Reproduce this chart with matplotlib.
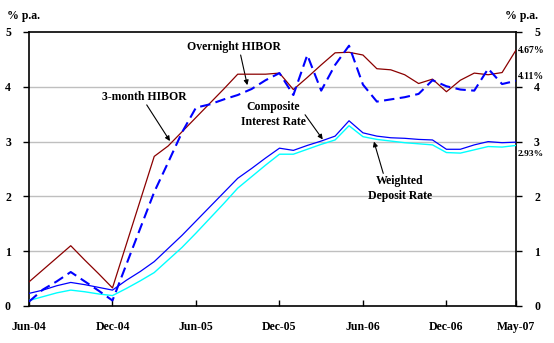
import matplotlib
matplotlib.use("Agg")
import matplotlib.pyplot as plt

# Monthly observations, Jun-04 .. May-07 (% p.a.)
months = ["Jun-04", "Jul-04", "Aug-04", "Sep-04", "Oct-04", "Nov-04", "Dec-04",
          "Jan-05", "Feb-05", "Mar-05", "Apr-05", "May-05", "Jun-05", "Jul-05",
          "Aug-05", "Sep-05", "Oct-05", "Nov-05", "Dec-05", "Jan-06", "Feb-06",
          "Mar-06", "Apr-06", "May-06", "Jun-06", "Jul-06", "Aug-06", "Sep-06",
          "Oct-06", "Nov-06", "Dec-06", "Jan-07", "Feb-07", "Mar-07", "Apr-07",
          "May-07"]

hibor_3m = [0.44, 0.66, 0.88, 1.10, 0.84, 0.59, 0.33, 1.13, 1.93, 2.73, 2.92, 3.18,
            3.44, 3.70, 3.96, 4.23, 4.23, 4.23, 4.25, 3.95, 4.17, 4.40, 4.62, 4.63,
            4.58, 4.33, 4.31, 4.22, 4.06, 4.14, 3.91, 4.12, 4.25, 4.22, 4.26, 4.67]

hibor_on = [0.08, 0.30, 0.45, 0.62, 0.45, 0.28, 0.10, 0.76, 1.42, 2.08, 2.62, 3.17,
            3.62, 3.68, 3.77, 3.85, 3.96, 4.12, 4.25, 3.85, 4.58, 3.93, 4.40, 4.75,
            4.04, 3.73, 3.77, 3.81, 3.87, 4.12, 4.01, 3.95, 3.93, 4.33, 4.05, 4.11]

composite = [0.23, 0.29, 0.37, 0.43, 0.39, 0.34, 0.29, 0.47, 0.63, 0.81, 1.05, 1.29,
             1.55, 1.81, 2.07, 2.33, 2.51, 2.70, 2.88, 2.84, 2.93, 3.01, 3.10, 3.38,
             3.16, 3.10, 3.07, 3.06, 3.04, 3.03, 2.86, 2.86, 2.94, 3.00, 2.98, 2.99]

deposit = [0.10, 0.17, 0.24, 0.29, 0.26, 0.22, 0.19, 0.32, 0.46, 0.61, 0.84, 1.07,
           1.33, 1.60, 1.87, 2.15, 2.36, 2.57, 2.77, 2.77, 2.86, 2.95, 3.03, 3.29,
           3.09, 3.04, 3.01, 2.98, 2.96, 2.94, 2.80, 2.79, 2.85, 2.91, 2.90, 2.93]

tick_labels = ["Jun-04", "Dec-04", "Jun-05", "Dec-05", "Jun-06", "Dec-06", "May-07"]
y_ticks = [0, 1, 2, 3, 4, 5]

FONT = "Liberation Serif"
plt.rcParams["font.family"] = [FONT, "DejaVu Serif"]
plt.rcParams["font.weight"] = "bold"

fig = plt.figure(figsize=(5.54, 3.43), dpi=100)
ax = fig.add_axes([29 / 554, 37 / 343, 487 / 554, 274 / 343])

x = list(range(len(months)))

ax.plot(x, deposit, color="#00FFFF", lw=1.0, zorder=3)
ax.plot(x, composite, color="#0000FF", lw=0.9, zorder=4)
ax.plot(x, hibor_3m, color="#8B0000", lw=0.9, zorder=4)
ax.plot(x, hibor_on, color="#0000FF", lw=1.5, dashes=(5, 2.6), zorder=5)

ax.set_xlim(0, len(months) - 1)
ax.set_ylim(0, 5)

tick_pos = [months.index(t) for t in tick_labels]
ax.set_xticks(tick_pos)
ax.set_xticklabels(tick_labels, fontsize=8.5, fontweight="bold")
ax.tick_params(axis="x", direction="in", length=4, width=1, pad=11)

ax.set_yticks(y_ticks)
ax.set_yticklabels([str(v) for v in y_ticks], fontsize=8.5, fontweight="bold")
ax.tick_params(axis="y", direction="out", length=4, width=1, pad=9,
               right=True, labelright=True)

for v in y_ticks[1:-1]:
    ax.axhline(v, color="#BFBFBF", lw=1.0, zorder=1)

for s in ax.spines.values():
    s.set_linewidth(1.2)
    s.set_color("black")

# Unit labels above both axes
ax.text(-0.045, 1.058, "% p.a.", transform=ax.transAxes, fontsize=8.5,
        fontweight="bold", ha="left", va="center")
ax.text(1.012, 1.058, "% p.a.", transform=ax.transAxes, fontsize=8.5,
        fontweight="bold", ha="center", va="center")

# End-of-period values
end = len(months) - 1
ax.text(end + 0.15, hibor_3m[-1], f"{hibor_3m[-1]:.2f}%", fontsize=7,
        fontweight="bold", ha="left", va="center", clip_on=False)
ax.text(end + 0.15, hibor_on[-1] + 0.07, f"{hibor_on[-1]:.2f}%", fontsize=7,
        fontweight="bold", ha="left", va="center", clip_on=False)
ax.text(end + 0.15, deposit[-1] - 0.16, f"{deposit[-1]:.2f}%", fontsize=6.8,
        fontweight="bold", ha="left", va="center", clip_on=False)

arrow = dict(arrowstyle="-|>", color="black", lw=0.8, mutation_scale=7,
             shrinkA=0, shrinkB=0)
lab = dict(fontsize=8.5, fontweight="bold", ha="center", va="center")

ax.text(14.73, 4.73, "Overnight HIBOR", **lab)
ax.annotate("", xy=(15.69, 4.03), xytext=(15.21, 4.58), arrowprops=arrow)

ax.text(8.27, 3.81, "3-month HIBOR", **lab)
ax.annotate("", xy=(10.13, 3.01), xytext=(8.46, 3.67), arrowprops=arrow)

ax.text(17.54, 3.50, "Composite\nInterest Rate", linespacing=1.3, **lab)
ax.annotate("", xy=(21.11, 3.04), xytext=(19.84, 3.49), arrowprops=arrow)

ax.text(26.66, 2.15, "Weighted\nDeposit Rate", linespacing=1.3, **lab)
ax.annotate("", xy=(24.79, 3.00), xytext=(25.46, 2.42), arrowprops=arrow)

fig.savefig("out.png", dpi=100)
